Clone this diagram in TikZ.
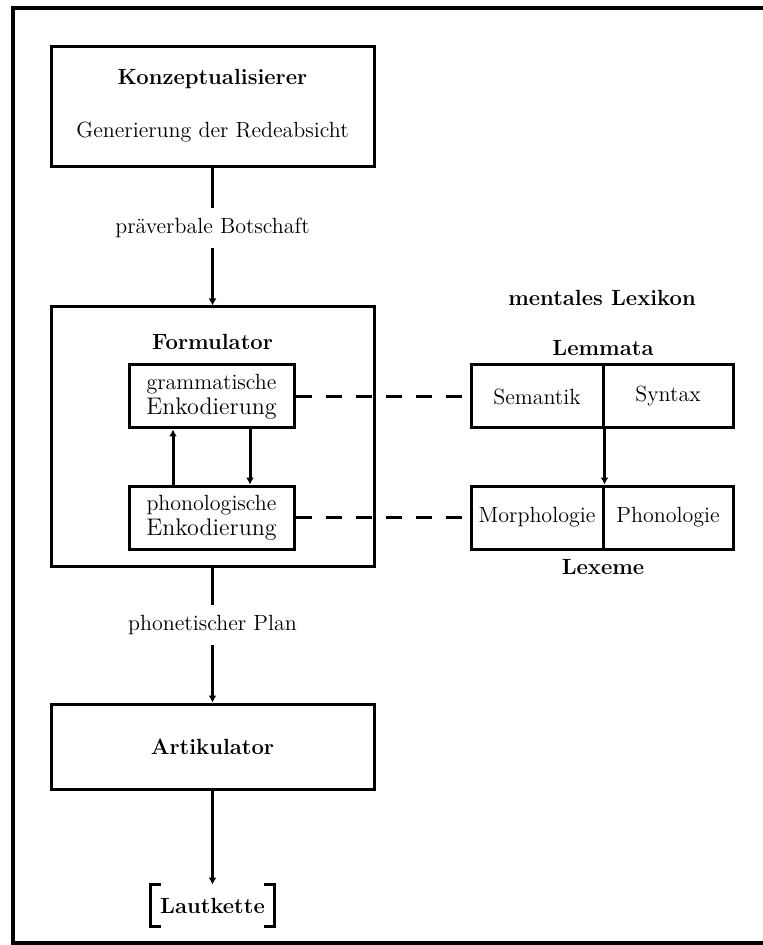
\documentclass[tikz,border=0pt]{standalone}
\usetikzlibrary{arrows.meta}
\begin{document}
\begin{tikzpicture}[x=0.5pt,y=-0.5pt,
  every node/.style={font=\fontsize{11}{13.5}\selectfont, inner sep=0pt},
  bigbox/.style={draw, line width=1.5pt, minimum width=161.5pt},
  smallbox/.style={draw, line width=1.5pt, minimum width=82.5pt, minimum height=31.5pt, align=center},
  lexbox/.style={draw, line width=1.5pt, minimum height=31.5pt},
  conn/.style={line width=1.5pt},
  arr/.style={line width=1.5pt, -{Latex[length=3.5pt,width=4pt]}},
  dash line/.style={line width=1.5pt, dash pattern=on 8pt off 7pt},
  title/.style={font=\fontsize{11}{13.5}\selectfont\bfseries},
  arrlabel/.style={inner xsep=0pt, inner ysep=5pt}
]
\useasboundingbox (0,0) rectangle (763,945);
% outer frame (left, top, bottom)
\draw[line width=2pt] (763,8) -- (13,8) -- (13,943) -- (763,943);

% Konzeptualisierer
\node[bigbox, minimum height=60pt] (konz) at (212.5,107) {};
\node[title] (konzt) at (212.5,79) {Konzeptualisierer};
\node (konzs) at (212.5,132) {Generierung der Redeabsicht};

% Formulator
\node[bigbox, minimum height=129.5pt] (form) at (212.5,436.5) {};
\node[title] (formt) at (212.5,342) {Formulator};
\node[smallbox] (gram) at (211.5,396.5) {grammatische\\[-1pt]{\fontsize{12}{14}\selectfont Enkodierung}};
\node[smallbox] (phon) at (211.5,517.5) {phonologische\\[-1pt]{\fontsize{12}{14}\selectfont Enkodierung}};

% Artikulator
\node[bigbox, minimum height=42.5pt] (art) at (212.5,746.5) {};
\node[title] (artt) at (212.5,747) {Artikulator};

% Lautkette
\node[title, minimum width=61.5pt, minimum height=20.5pt] (laut) at (212.5,905.5) {Lautkette};
\draw[line width=1.3pt] ([xshift=5pt]laut.north west) -- (laut.north west) -- (laut.south west) -- ([xshift=5pt]laut.south west);
\draw[line width=1.3pt] ([xshift=-5pt]laut.north east) -- (laut.north east) -- (laut.south east) -- ([xshift=-5pt]laut.south east);

% labels on arrows
\node[arrlabel] (pv) at (212.5,228) {präverbale Botschaft};
\node[arrlabel] (pp) at (212.5,625) {phonetischer Plan};

% connectors
\draw[conn] (konz.south) -- (pv.north);
\draw[arr] (pv.south) -- (form.north);
\draw[conn] (form.south) -- (pp.north);
\draw[arr] (pp.south) -- (art.north);
\draw[arr] (art.south) -- (laut.north);
\draw[arr] (phon.north -| 173,0) -- (gram.south -| 173,0);
\draw[arr] (gram.south -| 250,0) -- (phon.north -| 250,0);

% mentales Lexikon
\node[title] (ml) at (602,298) {mentales Lexikon};
\node[title] (lem) at (603,348) {Lemmata};
\node[lexbox, minimum width=66pt] (sem) at (537,396.5) {Semantik};
\node[lexbox, minimum width=65pt] (syn) at (668,396.5) {Syntax};
\node[lexbox, minimum width=66pt] (mor) at (537,517.5) {Morphologie};
\node[lexbox, minimum width=65pt] (pho) at (668,517.5) {Phonologie};
\node[title] (lex) at (603,567) {Lexeme};
\draw[arr] (sem.south east) -- (mor.north east);

% dashed links
\draw[dash line] (gram.east) -- (sem.west);
\draw[dash line] (phon.east) -- (mor.west);
\end{tikzpicture}
\end{document}
